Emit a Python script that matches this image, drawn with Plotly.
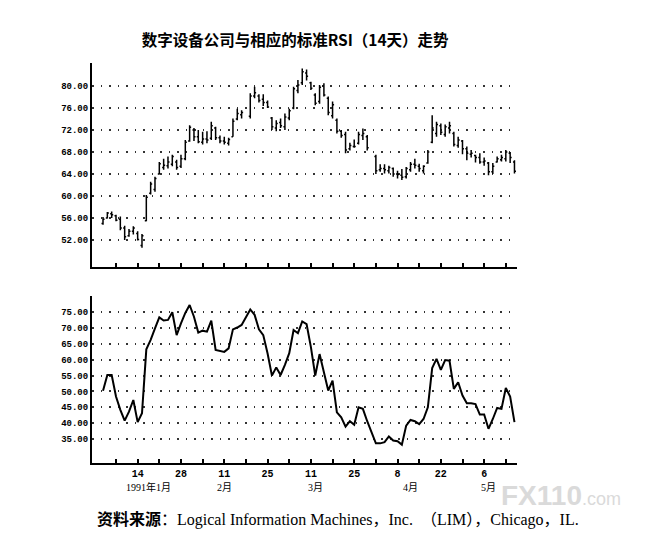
import plotly.graph_objects as go

# trading days, 1991 (holidays 2/18 and 3/29 have no data)
jan_days = [2, 3, 4, 7, 8, 9, 10, 11, 14, 15, 16, 17, 18, 21, 22, 23, 24, 25, 28, 29, 30, 31]
feb_days = [1, 4, 5, 6, 7, 8, 11, 12, 13, 14, 15, 19, 20, 21, 22, 25, 26, 27, 28]
mar_days = [1, 4, 5, 6, 7, 8, 11, 12, 13, 14, 15, 18, 19, 20, 21, 22, 25, 26, 27, 28]
apr_days = [1, 2, 3, 4, 5, 8, 9, 10, 11, 12, 15, 16, 17, 18, 19, 22, 23, 24, 25, 26, 29, 30]
may_days = [1, 2, 3, 6, 7, 8, 9, 10, 13, 14, 15]

dates = []
for m, days in [(1, jan_days), (2, feb_days), (3, mar_days), (4, apr_days), (5, may_days)]:
    dates += ['1991-%02d-%02d' % (m, d) for d in days]

# Digital Equipment daily bars
high = [56.2, 57.1, 57.2, 56.6, 56.3, 54.6, 54.0, 54.5, 53.6, 53.1, 60.2, 62.6, 63.5, 66.2, 66.8, 67.2, 67.5, 66.6, 67.5, 70.2, 72.9, 72.4,
        72.0, 71.7, 71.8, 73.5, 72.6, 71.0, 70.8, 70.6, 74.1, 75.9, 75.6, 78.7, 79.9, 78.5, 78.5, 77.4, 74.4, 73.8, 74.1,
        75.0, 75.9, 79.9, 81.1, 83.2, 83.0, 80.8, 78.7, 80.2, 80.5, 78.1, 77.2, 74.1, 72.0, 71.7, 69.7, 70.3, 71.7, 72.3, 71.1,
        67.5, 65.8, 65.8, 65.5, 65.2, 64.6, 64.9, 65.3, 66.2, 66.8, 65.9, 65.6, 68.4, 74.7, 73.5, 73.2, 73.0, 73.5, 71.7, 70.8, 70.2, 69.0,
        68.4, 67.5, 67.8, 67.0, 66.2, 66.0, 67.2, 67.5, 68.4, 68.0, 66.5]
low = [54.8, 55.9, 56.0, 55.4, 53.8, 52.0, 52.6, 53.0, 51.9, 50.6, 55.4, 60.3, 60.8, 63.9, 64.8, 65.0, 65.4, 64.8, 65.1, 66.5, 69.9, 70.0,
       69.6, 69.4, 69.6, 70.2, 70.2, 69.6, 69.4, 69.2, 70.8, 73.8, 74.1, 74.1, 77.8, 77.0, 76.4, 76.0, 72.0, 71.8, 72.4,
       72.0, 73.8, 75.8, 78.7, 80.2, 81.0, 79.3, 76.5, 76.8, 78.1, 74.7, 74.1, 71.4, 70.6, 67.8, 68.3, 68.8, 69.4, 70.2, 68.3,
       64.0, 64.4, 64.1, 64.1, 63.5, 63.2, 62.9, 63.2, 64.4, 65.0, 64.4, 64.1, 65.9, 69.6, 70.8, 71.1, 70.8, 71.4, 69.0, 68.8, 67.6, 66.5,
       67.0, 66.1, 65.9, 65.5, 63.8, 64.0, 66.1, 66.3, 66.3, 66.0, 64.1]
open_ = [55.0, 56.0, 56.8, 56.4, 55.8, 54.2, 52.8, 53.6, 53.2, 51.0, 55.5, 60.5, 61.2, 64.0, 65.2, 65.5, 65.8, 66.2, 65.4, 66.8, 70.0, 72.0,
         70.8, 69.8, 70.4, 70.5, 72.4, 70.6, 70.0, 69.6, 70.8, 74.0, 74.8, 74.5, 78.2, 78.2, 77.6, 77.0, 74.2, 72.4, 73.4,
         72.6, 74.2, 76.0, 79.2, 80.6, 82.4, 80.6, 78.4, 77.2, 80.0, 77.8, 74.6, 73.8, 71.8, 71.2, 68.6, 69.0, 69.6, 71.0, 70.8,
         67.2, 64.8, 65.0, 64.6, 65.0, 64.0, 63.8, 63.5, 64.8, 65.8, 65.4, 64.6, 66.0, 69.8, 71.4, 72.8, 71.2, 72.4, 71.4, 69.2, 70.0, 68.6,
         67.6, 67.4, 67.0, 66.2, 66.0, 64.4, 66.2, 66.6, 66.8, 67.8, 66.2]
close = [55.8, 56.9, 56.6, 55.6, 54.2, 52.6, 53.6, 54.2, 52.1, 52.8, 59.8, 62.2, 63.2, 65.9, 65.6, 66.2, 67.2, 65.2, 66.8, 69.8, 72.5, 70.8,
         69.9, 70.4, 70.2, 72.8, 70.6, 70.0, 69.8, 70.3, 73.6, 75.0, 75.2, 78.2, 78.8, 77.4, 77.0, 76.2, 72.6, 73.2, 72.8,
         74.4, 75.5, 79.5, 80.2, 82.6, 81.8, 79.6, 76.9, 79.8, 78.4, 75.2, 76.6, 71.8, 71.0, 68.4, 69.2, 69.0, 71.2, 71.4, 68.8,
         64.6, 65.0, 64.8, 65.2, 64.0, 63.9, 63.4, 65.0, 65.8, 65.6, 65.0, 65.4, 68.0, 72.4, 73.0, 71.6, 72.6, 72.8, 69.4, 70.2, 68.6, 67.8,
         67.8, 67.0, 66.2, 66.4, 64.4, 65.4, 66.8, 67.0, 68.0, 67.0, 64.5]

# 14-day RSI
rsi = [50.2, 55.2, 55.2, 48.4, 44.2, 40.8, 43.6, 47.3, 40.3, 43.1, 63.3, 66.3, 69.9, 73.4, 72.4, 72.6, 75.0, 67.8, 71.5, 74.8, 77.3, 73.6,
       68.6, 69.2, 68.9, 72.4, 63.1, 62.9, 62.5, 63.6, 69.6, 70.2, 71.0, 75.9, 74.2, 69.6, 67.8, 62.0, 55.0, 57.6, 55.2,
       58.4, 62.1, 69.4, 68.4, 72.1, 71.3, 64.0, 55.0, 61.8, 55.5, 50.3, 53.4, 43.4, 41.8, 38.9, 40.6, 39.5, 45.0, 44.5, 40.6,
       33.6, 33.6, 34.0, 35.8, 34.5, 34.3, 33.2, 39.2, 41.0, 40.6, 39.7, 41.3, 45.0, 57.4, 60.3, 56.8, 59.9, 59.7, 50.8, 52.9, 48.7, 46.3,
       46.3, 46.0, 42.7, 42.7, 38.2, 41.3, 44.8, 44.5, 51.1, 48.4, 40.3]

# weekly ticks (Mondays) and their labels
tick_dates = ['1991-01-07', '1991-01-14', '1991-01-21', '1991-01-28', '1991-02-04', '1991-02-11', '1991-02-18',
              '1991-02-25', '1991-03-04', '1991-03-11', '1991-03-18', '1991-03-25', '1991-04-01', '1991-04-08',
              '1991-04-15', '1991-04-22', '1991-04-29', '1991-05-06', '1991-05-13']
tick_text = ['', '14', '', '28', '', '11', '', '25', '', '11', '', '25', '', '8', '', '22', '', '6', '']
month_labels = ['1991年1月', '2月', '3月', '4月', '5月']
month_pos = ['1991-01-16 12:00', '1991-02-11', '1991-03-12', '1991-04-11', '1991-05-07']

price_ticks = [52, 56, 60, 64, 68, 72, 76, 80]
rsi_ticks = [35, 40, 45, 50, 55, 60, 65, 70, 75]

fig = go.Figure()

fig.add_trace(go.Ohlc(x=dates, open=open_, high=high, low=low, close=close,
                      increasing_line_color='black', decreasing_line_color='black',
                      line_width=1.5, tickwidth=0.35, xaxis='x', yaxis='y',
                      hoverinfo='skip', showlegend=False))

fig.add_trace(go.Scatter(x=dates, y=rsi, mode='lines', line=dict(color='black', width=2),
                         xaxis='x2', yaxis='y2', hoverinfo='skip', showlegend=False))

# page body adds an 8px offset, margins are set to compensate
xrange = ['1990-12-28 11:00', '1991-05-15 14:00']
common_x = dict(range=xrange, rangebreaks=[dict(bounds=['sat', 'mon'])], showgrid=False,
                showline=True, linecolor='black', linewidth=2, ticks='inside', ticklen=4,
                tickwidth=1.5, tickcolor='black', tickvals=tick_dates, zeroline=False)
common_y = dict(showgrid=True, gridcolor='#333', gridwidth=1.8, griddash='1.5px,7px',
                showline=True, linecolor='black', linewidth=2, ticks='', tickformat='.2f',
                zeroline=False,
                tickfont=dict(family='Liberation Mono', size=9, color='black', weight='bold'))

fig.update_layout(
    width=660, height=548, autosize=False, template='none',
    paper_bgcolor='white', plot_bgcolor='white',
    margin=dict(l=84, r=151, t=55, b=93),
    title=dict(text='数字设备公司与相应的标准RSI（14天）走势', x=0.435, xanchor='center',
               y=0.941, yanchor='middle',
               font=dict(family='Noto Sans CJK SC', size=15.5, color='black', weight='bold')),
    xaxis=dict(common_x, domain=[0, 1], anchor='y', showticklabels=False, rangeslider=dict(visible=False)),
    yaxis=dict(common_y, domain=[0.49, 1], range=[47.1, 84.2], tickvals=price_ticks),
    xaxis2=dict(common_x, domain=[0, 1], anchor='y2', matches='x', ticktext=tick_text,
                tickfont=dict(family='Liberation Mono', size=10, color='black', weight='bold')),
    yaxis2=dict(common_y, domain=[0, 0.4175], range=[27.4, 80.15], tickvals=rsi_ticks),
)

for label, pos in zip(month_labels, month_pos):
    fig.add_annotation(x=pos, y=-0.06, xref='x2', yref='paper', text=label, showarrow=False,
                       xanchor='center', yanchor='middle',
                       font=dict(family='Liberation Serif, Noto Sans CJK SC', size=10, color='black'))

fig.add_annotation(x=0.957, y=-0.082, xref='paper', yref='paper', showarrow=False,
                   text='<b>FX110</b><span style="font-size:18px">.com</span>', xanchor='left', yanchor='middle',
                   font=dict(family='Liberation Sans', size=28, color='#dadada'))

fig.add_annotation(x=0.007, y=-0.1425, xref='paper', yref='paper', showarrow=False,
                   xanchor='left', yanchor='middle',
                   text='<b>资料来源</b>：Logical Information Machines，Inc.  （LIM），Chicago，IL.',
                   font=dict(family='Liberation Serif, Noto Sans CJK SC', size=16, color='black'))

fig.write_html('out.html')
